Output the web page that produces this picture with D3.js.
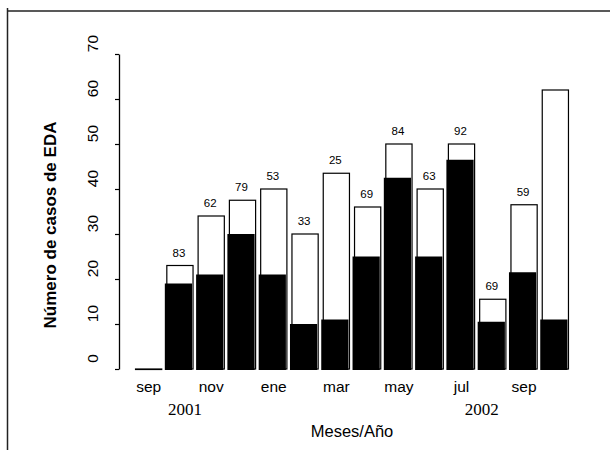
<!DOCTYPE html>
<html>
<head>
<meta charset="utf-8">
<script src="https://cdn.jsdelivr.net/npm/d3@7"></script>
<style>
  body { margin: 0; background: #fff; }
  svg { display: block; }
  text { font-family: "Liberation Sans", Arial, sans-serif; fill: #000; }
</style>
</head>
<body>
<div id="chart"></div>
<script>
// months, sep 2001 .. oct 2002
const months = ["sep","oct","nov","dic","ene","feb","mar","abr","may","jun","jul","ago","sep","oct"];
// total cases (white bars) and confirmed cases (black bars)
const totals = [0, 23, 34, 37.5, 40, 30, 43.5, 36, 50, 40, 50, 15.5, 36.5, 62];
const cases  = [0, 19, 21, 30, 21, 10, 11, 25, 42.5, 25, 46.5, 10.5, 21.5, 11];
// percent labels printed above the bars
const pctLabels = ["", "83", "62", "79", "53", "33", "25", "69", "84", "63", "92", "69", "59", ""];
const yTicks = [0, 10, 20, 30, 40, 50, 60, 70];
const years = ["2001", "2002"];

const width = 610, height = 450;

const svg = d3.select("#chart").append("svg")
    .attr("width", width)
    .attr("height", height);

// page frame (top and left edges of the scan)
svg.append("line").attr("x1", 7).attr("x2", 610).attr("y1", 11).attr("y2", 11)
    .attr("stroke", "#222").attr("stroke-width", 1.5);
svg.append("line").attr("x1", 7.5).attr("x2", 7.5).attr("y1", 8).attr("y2", 450)
    .attr("stroke", "#222").attr("stroke-width", 1.5);

const idx = d3.range(months.length);

const x = d3.scaleBand()
    .domain(idx)
    .range([133, 571])
    .paddingInner(0.13)
    .paddingOuter(0.065);

const y = d3.scaleLinear()
    .domain([0, 70])
    .range([369, 54]);

const bw = x.bandwidth();

// white (outlined) bars
svg.append("g").selectAll("rect")
    .data(idx)
    .join("rect")
    .attr("x", i => x(i) + 0.5)
    .attr("y", i => y(totals[i]))
    .attr("width", bw - 1)
    .attr("height", i => Math.max(y(0) - y(totals[i]), 0.5))
    .attr("fill", "#fff")
    .attr("stroke", "#000")
    .attr("stroke-width", 1.2);

// black bars
svg.append("g").selectAll("rect")
    .data(idx.filter(i => cases[i] > 0))
    .join("rect")
    .attr("x", i => x(i) - 1.5)
    .attr("y", i => y(cases[i]))
    .attr("width", bw)
    .attr("height", i => y(0) - y(cases[i]) + 1)
    .attr("fill", "#000");

// percent labels
svg.append("g").selectAll("text")
    .data(idx.filter(i => pctLabels[i] !== ""))
    .join("text")
    .attr("x", i => x(i) + bw / 2 - 1)
    .attr("y", i => y(totals[i]) - 9)
    .attr("text-anchor", "middle")
    .style("font-size", "11.5px")
    .text(i => pctLabels[i]);

// y axis
const yAxis = svg.append("g")
    .attr("transform", "translate(119,0)")
    .call(d3.axisLeft(y).tickValues(yTicks).tickSize(4).tickSizeOuter(0));
yAxis.select(".domain").attr("stroke-width", 1.3);
yAxis.selectAll(".tick line").attr("stroke-width", 1.2);
yAxis.selectAll(".tick text")
    .attr("x", null).attr("dy", null)
    .attr("transform", "translate(-26,-11) rotate(-90)")
    .attr("text-anchor", "middle")
    .attr("dy", "0.35em")
    .style("font-size", "15.5px")
    .style("font-family", "'Liberation Sans', Arial, sans-serif");

// x axis (month labels every other bar)
const xAxis = svg.append("g")
    .attr("transform", "translate(0,370)")
    .call(d3.axisBottom(x).tickSize(0).tickPadding(11)
        .tickFormat(i => i % 2 === 0 ? months[i] : ""));
xAxis.select(".domain").remove();
xAxis.selectAll(".tick text")
    .style("font-size", "15.5px")
    .style("font-family", "'Liberation Sans', Arial, sans-serif");

// year labels
const yearX = [x(1) + bw / 2 + 5, x(11) + bw / 2 - 11];
svg.append("g").selectAll("text")
    .data(years)
    .join("text")
    .attr("x", (d, k) => yearX[k])
    .attr("y", 415)
    .attr("text-anchor", "middle")
    .style("font-family", "'Liberation Serif', 'Times New Roman', serif")
    .style("font-size", "17px")
    .text(d => d);

// axis titles
svg.append("text")
    .attr("x", 352)
    .attr("y", 437)
    .attr("text-anchor", "middle")
    .style("font-size", "16.5px")
    .text("Meses/Año");

svg.append("text")
    .attr("transform", "translate(50,225) rotate(-90)")
    .attr("text-anchor", "middle")
    .attr("dy", "0.35em")
    .style("font-size", "17px")
    .style("font-weight", "bold")
    .text("Número de casos de EDA");
</script>
</body>
</html>
